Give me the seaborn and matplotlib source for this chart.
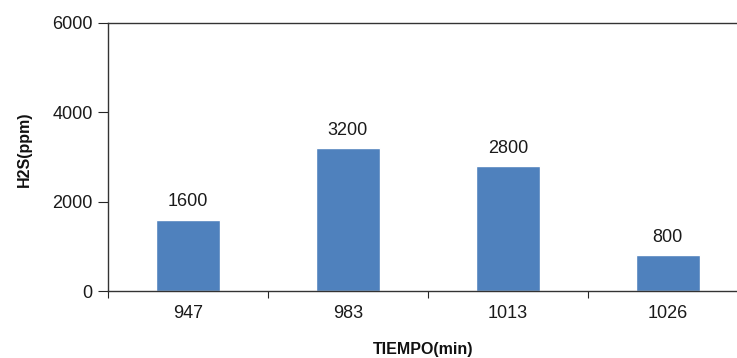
import pandas as pd
import matplotlib.pyplot as plt
import seaborn as sns
import numpy as np

# donnees
tiempo = ["947", "983", "1013", "1026"]
h2s = [1600, 3200, 2800, 800]

sns.set_style("white")
plt.rcParams['font.family'] = ['Liberation Sans', 'DejaVu Sans']

df = pd.DataFrame({"tiempo": tiempo, "h2s": h2s})

fig = plt.figure(figsize=(7.37, 3.58), dpi=100)
ax = fig.add_axes([0.1465, 0.187, 0.868, 0.749])

sns.barplot(data=df, x="tiempo", y="h2s", color="#4F81BD", width=0.4,
            saturation=1, ax=ax)

# etiquettes au-dessus des barres
for i, v in enumerate(h2s):
    ax.annotate(str(v), (i, v), xytext=(0, 9.5), textcoords='offset points',
                ha='center', va='baseline', fontsize=13, color='#1a1a1a')

ax.set_ylim(0, 6000)
ax.set_xlim(-0.5, 3.5)
ax.set_yticks([0, 2000, 4000, 6000])
ax.set_yticklabels(["0", "2000", "4000", "6000"], fontsize=13, color='#1a1a1a')
ax.tick_params(axis='x', which='major', length=0, labelsize=13, labelcolor='#1a1a1a', pad=10)
ax.set_xticks(np.arange(-0.5, 4, 1), minor=True)
ax.tick_params(axis='x', which='minor', direction='out', length=5, width=0.8, bottom=True)
ax.tick_params(axis='y', direction='out', length=7, width=0.8, left=True, pad=4)

ax.set_xlabel("TIEMPO(min)", fontsize=11.5, fontweight='bold', color='#111111')
ax.set_ylabel("H2S(ppm)", fontsize=11.5, fontweight='bold', color='#111111')
ax.xaxis.set_label_coords(0.492, -0.19)
ax.yaxis.label.set_va('center')
ax.yaxis.set_label_coords(-0.131, 0.53)

for s in ['left', 'bottom', 'top']:
    ax.spines[s].set_color('#333333')
    ax.spines[s].set_linewidth(1.0)
ax.spines['right'].set_visible(False)

plt.savefig('out.png', dpi=100)
plt.close()
